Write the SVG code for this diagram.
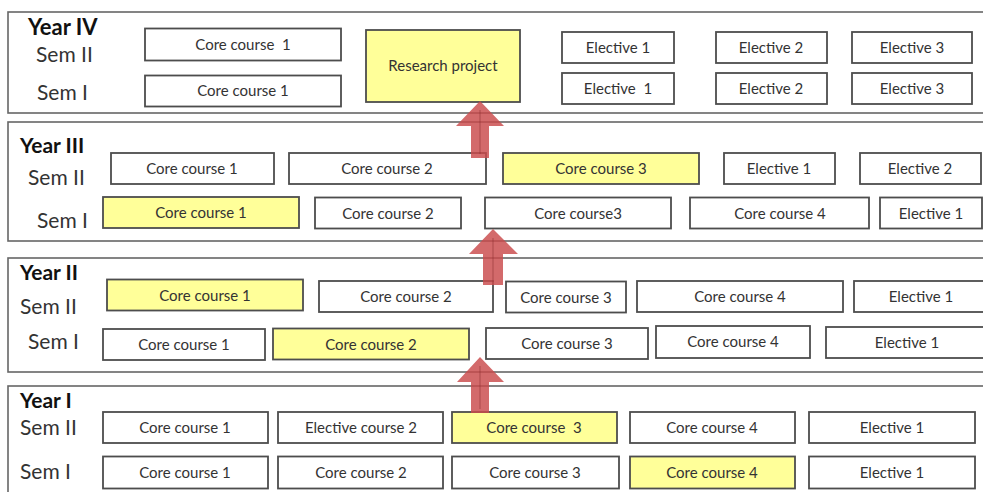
<svg xmlns="http://www.w3.org/2000/svg" width="983" height="492" viewBox="0 0 983 492">
  <style>
    .panel { fill: #ffffff; stroke: #666666; stroke-width: 1.6; }
    .box { fill: #ffffff; stroke: #4d4d4d; stroke-width: 1.8; }
    .hl { fill: #ffff99; }
    .t { font-family: Lato, "Open Sans", sans-serif; font-size: 15px; fill: #333333; text-anchor: middle; white-space: pre; }
    .yr { font-family: Lato, "Open Sans", sans-serif; font-size: 21px; font-weight: bold; fill: #111111; }
    .sem { font-family: Lato, "Open Sans", sans-serif; font-size: 21px; fill: #333333; }
    .arrow { fill: #c9494b; fill-opacity: 0.82; }
    .mid { stroke: #8a2e30; stroke-width: 1; stroke-opacity: 0.55; }
  </style>

  <rect width="983" height="492" fill="#ffffff"/>

  <!-- Year IV -->
  <g id="year4">
    <rect class="panel" x="8" y="12" width="990" height="101"/>
    <text class="yr" x="28" y="35" style="font-size:22px">Year IV</text>
    <text class="sem" x="36" y="62">Sem II</text>
    <text class="sem" x="37" y="100">Sem I</text>
  </g>
  <g id="y4-s2-core1"><rect class="box" x="145" y="28.5" width="196" height="32"/><text class="t" x="243" y="50">Core course  1</text></g>
  <g id="y4-s1-core1"><rect class="box" x="145" y="75.5" width="196" height="31"/><text class="t" x="243" y="96">Core course 1</text></g>
  <g id="y4-research"><rect class="box hl" x="366" y="30" width="154" height="72"/><text class="t" x="443" y="71">Research project</text></g>
  <g id="y4-s2-el1"><rect class="box" x="562" y="32" width="112" height="31"/><text class="t" x="618" y="53">Elective 1</text></g>
  <g id="y4-s2-el2"><rect class="box" x="716" y="32" width="111" height="31"/><text class="t" x="771" y="53">Elective 2</text></g>
  <g id="y4-s2-el3"><rect class="box" x="852" y="32" width="120" height="31"/><text class="t" x="912" y="53">Elective 3</text></g>
  <g id="y4-s1-el1"><rect class="box" x="562" y="73" width="112" height="31"/><text class="t" x="618" y="94">Elective  1</text></g>
  <g id="y4-s1-el2"><rect class="box" x="716" y="73" width="111" height="31"/><text class="t" x="771" y="94">Elective 2</text></g>
  <g id="y4-s1-el3"><rect class="box" x="852" y="73" width="120" height="31"/><text class="t" x="912" y="94">Elective 3</text></g>

  <!-- Year III -->
  <g id="year3">
    <rect class="panel" x="8" y="122" width="990" height="119"/>
    <text class="yr" x="20" y="153">Year III</text>
    <text class="sem" x="28" y="185">Sem II</text>
    <text class="sem" x="37" y="228">Sem I</text>
  </g>
  <g id="y3-s2-core1"><rect class="box" x="111" y="153" width="163" height="31"/><text class="t" x="192" y="174">Core course 1</text></g>
  <g id="y3-s2-core2"><rect class="box" x="289" y="153" width="197" height="31"/><text class="t" x="387" y="174">Core course 2</text></g>
  <g id="y3-s2-core3"><rect class="box hl" x="503" y="153" width="196" height="31"/><text class="t" x="601" y="174">Core course 3</text></g>
  <g id="y3-s2-el1"><rect class="box" x="724" y="153" width="111" height="31"/><text class="t" x="779" y="174">Elective 1</text></g>
  <g id="y3-s2-el2"><rect class="box" x="860" y="153" width="121" height="31"/><text class="t" x="920" y="174">Elective 2</text></g>
  <g id="y3-s1-core1"><rect class="box hl" x="103" y="197" width="196" height="31"/><text class="t" x="201" y="218">Core course 1</text></g>
  <g id="y3-s1-core2"><rect class="box" x="315" y="197.5" width="146" height="31"/><text class="t" x="388" y="218.5">Core course 2</text></g>
  <g id="y3-s1-core3"><rect class="box" x="485" y="197.5" width="186" height="31"/><text class="t" x="578" y="218.5">Core course3</text></g>
  <g id="y3-s1-core4"><rect class="box" x="690" y="197.5" width="179" height="31"/><text class="t" x="780" y="218.5">Core course 4</text></g>
  <g id="y3-s1-el1"><rect class="box" x="880" y="197.5" width="102" height="31"/><text class="t" x="931" y="218.5">Elective 1</text></g>

  <!-- Year II -->
  <g id="year2">
    <rect class="panel" x="8" y="258" width="990" height="114"/>
    <text class="yr" x="20" y="280">Year II</text>
    <text class="sem" x="20" y="314">Sem II</text>
    <text class="sem" x="28" y="349">Sem I</text>
  </g>
  <g id="y2-s2-core1"><rect class="box hl" x="107" y="279.5" width="196" height="31"/><text class="t" x="205" y="300.5">Core course 1</text></g>
  <g id="y2-s2-core2"><rect class="box" x="319" y="281" width="174" height="31"/><text class="t" x="406" y="302">Core course 2</text></g>
  <g id="y2-s2-core3"><rect class="box" x="506" y="281.5" width="120" height="31"/><text class="t" x="566" y="302.5">Core course 3</text></g>
  <g id="y2-s2-core4"><rect class="box" x="637" y="281" width="206" height="31"/><text class="t" x="740" y="302">Core course 4</text></g>
  <g id="y2-s2-el1"><rect class="box" x="854" y="281" width="135" height="31"/><text class="t" x="921" y="302">Elective 1</text></g>
  <g id="y2-s1-core1"><rect class="box" x="103" y="329" width="162" height="31"/><text class="t" x="184" y="350">Core course 1</text></g>
  <g id="y2-s1-core2"><rect class="box hl" x="273" y="328.5" width="196" height="31"/><text class="t" x="371" y="349.5">Core course 2</text></g>
  <g id="y2-s1-core3"><rect class="box" x="486" y="328" width="162" height="31"/><text class="t" x="567" y="349">Core course 3</text></g>
  <g id="y2-s1-core4"><rect class="box" x="656" y="326" width="154" height="32"/><text class="t" x="733" y="347">Core course 4</text></g>
  <g id="y2-s1-el1"><rect class="box" x="826" y="327" width="170" height="31"/><text class="t" x="907" y="348">Elective 1</text></g>

  <!-- Year I -->
  <g id="year1">
    <rect class="panel" x="8" y="386" width="990" height="120"/>
    <text class="yr" x="20" y="408">Year I</text>
    <text class="sem" x="20" y="435">Sem II</text>
    <text class="sem" x="20" y="479">Sem I</text>
  </g>
  <g id="y1-s2-core1"><rect class="box" x="103" y="412" width="165" height="31"/><text class="t" x="185" y="433">Core course 1</text></g>
  <g id="y1-s2-el2"><rect class="box" x="278" y="412" width="165" height="31"/><text class="t" x="361" y="433">Elective course 2</text></g>
  <g id="y1-s2-core3"><rect class="box hl" x="452" y="412" width="165" height="31"/><text class="t" x="534" y="433">Core course  3</text></g>
  <g id="y1-s2-core4"><rect class="box" x="630" y="412" width="165" height="31"/><text class="t" x="712" y="433">Core course 4</text></g>
  <g id="y1-s2-el1"><rect class="box" x="809" y="412" width="166" height="31"/><text class="t" x="892" y="433">Elective 1</text></g>
  <g id="y1-s1-core1"><rect class="box" x="103" y="456.5" width="165" height="32"/><text class="t" x="185" y="478">Core course 1</text></g>
  <g id="y1-s1-core2"><rect class="box" x="278" y="456.5" width="165" height="32"/><text class="t" x="361" y="478">Core course 2</text></g>
  <g id="y1-s1-core3"><rect class="box" x="452" y="456.5" width="167" height="32"/><text class="t" x="535" y="478">Core course 3</text></g>
  <g id="y1-s1-core4"><rect class="box hl" x="630" y="456.5" width="165" height="32"/><text class="t" x="712" y="478">Core course 4</text></g>
  <g id="y1-s1-el1"><rect class="box" x="809" y="456.5" width="166" height="32"/><text class="t" x="892" y="478">Elective 1</text></g>

  <!-- progression arrows between years -->
  <g id="connectors">
    <polygon class="arrow" points="480,101 504,126 489,126 489,158 471,158 471,126 456,126"/>
    <line class="mid" x1="480" y1="110" x2="480" y2="154"/>
    <polygon class="arrow" points="493,229 518,254 503,254 503,285 483,285 483,254 469,254"/>
    <line class="mid" x1="493" y1="238" x2="493" y2="282"/>
    <polygon class="arrow" points="480,357 504,382 489,382 489,413 471,413 471,382 457,382"/>
    <line class="mid" x1="480" y1="366" x2="480" y2="409"/>
  </g>
</svg>
